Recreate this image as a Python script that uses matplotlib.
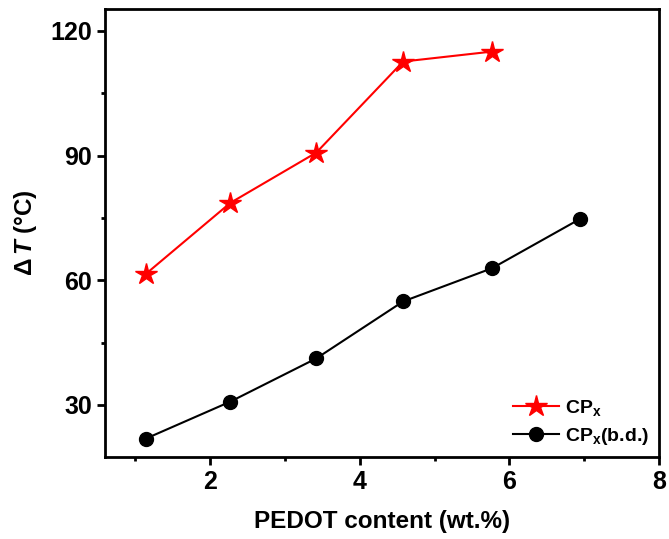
import matplotlib
matplotlib.use('Agg')
import matplotlib.pyplot as plt

# data
pedot = [1.14, 2.27, 3.42, 4.58, 5.77, 6.95]
dT_cp = [61.5, 78.6, 90.7, 112.6, 115.0]
dT_cp_bd = [21.9, 30.8, 41.2, 54.9, 62.9, 74.8]

plt.rcParams['font.family'] = 'Liberation Sans'
plt.rcParams['font.weight'] = 'bold'
plt.rcParams['mathtext.fontset'] = 'custom'
plt.rcParams['mathtext.rm'] = 'Liberation Sans'
plt.rcParams['mathtext.bf'] = 'Liberation Sans:bold'
plt.rcParams['mathtext.it'] = 'Liberation Sans:bold:italic'

fig = plt.figure(figsize=(6.69, 5.39), dpi=100)
ax = fig.add_axes([0.1575, 0.153, 0.8275, 0.83])

ax.plot(pedot[:len(dT_cp)], dT_cp, color='red', lw=1.5, marker='*', ms=16,
        label=r'CP$_\mathbf{x}$')
ax.plot(pedot, dT_cp_bd, color='black', lw=1.5, marker='o', ms=10,
        label=r'CP$_\mathbf{x}$(b.d.)')

ax.set_xlim(0.6, 8)
ax.set_ylim(17.6, 125.2)
ax.set_xticks([2, 4, 6, 8])
ax.set_xticks([1, 3, 5, 7], minor=True)
ax.set_yticks([30, 60, 90, 120])
ax.set_yticks([45, 75, 105], minor=True)

for s in ax.spines.values():
    s.set_linewidth(2)
ax.tick_params(which='major', direction='out', length=6, width=2, labelsize=18)
ax.tick_params(which='minor', direction='out', length=3, width=2)

ax.set_xlabel('PEDOT content (wt.%)', fontsize=17.5, fontweight='bold', labelpad=12)
ax.set_ylabel(r'$\mathrm{\Delta}\,\mathit{T}$ (°C)', fontsize=17.5, fontweight='bold', labelpad=8)

ax.legend(loc='lower right', frameon=False, fontsize=14, handlelength=2.4,
          handletextpad=0.3, borderaxespad=0.1, labelspacing=0.4)

fig.savefig('out.png', dpi=100)
